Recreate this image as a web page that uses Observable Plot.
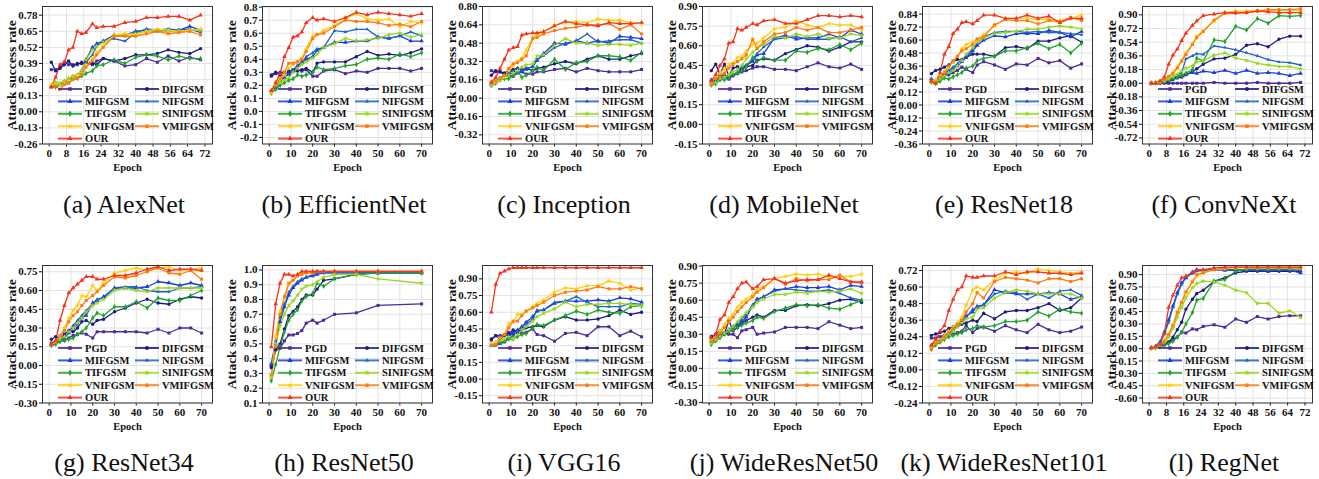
<!DOCTYPE html>
<html><head><meta charset="utf-8">
<script src="https://cdn.jsdelivr.net/npm/d3@7"></script>
<script src="https://cdn.jsdelivr.net/npm/@observablehq/plot@0.6"></script>
<style>
body{margin:0;background:#fff;}
#root{position:relative;width:1319px;height:479px;overflow:hidden;font-family:"Liberation Serif","Times New Roman",serif;}
.panel{position:absolute;width:220px;}
.cap{position:absolute;font-size:26px;white-space:nowrap;transform:translateX(-50%);color:#111;line-height:1;font-family:"Liberation Serif","Times New Roman",serif;}
</style></head><body><div id="root"></div>
<script>
// ---------- data ----------
const methods = ["PGD","DIFGSM","MIFGSM","NIFGSM","TIFGSM","SINIFGSM","VNIFGSM","VMIFGSM","OUR"];
const colors  = ["#4b2a99","#1c1c80","#1a3ce0","#1f63c6","#1fa52a","#9ad81e","#ffcf0a","#ff7a10","#f5341e"];
const symbols = ["square","circle","triangle","triangle2","diamond","star","star","square","triangle"];

const epochs   = [1,3,5,7,9,11,13,15,17,20,22,25,30,35,40,45,50,55,60,65,70];
const epochsR50 = [1,3,5,7,9,11,13,15,17,20,22,25,30,40,50,70];

const xTicks72 = [0,8,16,24,32,40,48,56,64,72];
const xTicks70 = [0,10,20,30,40,50,60,70];

const captions = ["(a) AlexNet","(b) EfficientNet","(c) Inception","(d) MobileNet","(e) ResNet18","(f) ConvNeXt",
  "(g) ResNet34","(h) ResNet50","(i) VGG16","(j) WideResNet50","(k) WideResNet101","(l) RegNet"];

const yTicksA = [-0.26,-0.13,0,0.13,0.26,0.39,0.52,0.65,0.78];
const yTicksB = [-0.2,-0.1,0,0.1,0.2,0.3,0.4,0.5,0.6,0.7,0.8];
const yTicksC = [-0.32,-0.16,0,0.16,0.32,0.48,0.64,0.80];
const yTicksD = [-0.15,0,0.15,0.30,0.45,0.60,0.75,0.90];
const yTicksE = [-0.36,-0.24,-0.12,0,0.12,0.24,0.36,0.48,0.60,0.72,0.84];
const yTicksF = [-0.72,-0.54,-0.36,-0.18,0,0.18,0.36,0.54,0.72,0.90];
const yTicksG = [-0.30,-0.15,0,0.15,0.30,0.45,0.60,0.75];
const yTicksH = [0.1,0.2,0.3,0.4,0.5,0.6,0.7,0.8,0.9,1.0];
const yTicksI = [-0.15,0,0.15,0.30,0.45,0.60,0.75,0.90];
const yTicksJ = [-0.30,-0.15,0,0.15,0.30,0.45,0.60,0.75,0.90];
const yTicksK = [-0.24,-0.12,0,0.12,0.24,0.36,0.48,0.60,0.72];
const yTicksL = [-0.60,-0.45,-0.30,-0.15,0,0.15,0.30,0.45,0.60,0.75,0.90];

// rows: PGD, DIFGSM, MIFGSM, NIFGSM, TIFGSM, SINIFGSM, VNIFGSM, VMIFGSM, OUR
const alexnet = [
 [0.34,0.34,0.36,0.40,0.38,0.38,0.38,0.40,0.39,0.38,0.41,0.43,0.41,0.37,0.38,0.43,0.40,0.45,0.41,0.44,0.42],
 [0.40,0.33,0.35,0.38,0.41,0.37,0.39,0.39,0.40,0.39,0.38,0.43,0.41,0.43,0.46,0.46,0.47,0.50,0.48,0.47,0.51],
 [0.20,0.21,0.22,0.24,0.25,0.27,0.29,0.33,0.42,0.52,0.55,0.57,0.62,0.62,0.65,0.66,0.65,0.66,0.66,0.69,0.66],
 [0.21,0.22,0.21,0.23,0.26,0.27,0.28,0.32,0.40,0.46,0.53,0.57,0.59,0.57,0.64,0.67,0.66,0.67,0.66,0.67,0.64],
 [0.21,0.20,0.22,0.24,0.26,0.28,0.27,0.29,0.31,0.33,0.37,0.38,0.42,0.39,0.44,0.46,0.45,0.42,0.45,0.43,0.43],
 [0.21,0.24,0.23,0.25,0.27,0.29,0.30,0.33,0.42,0.50,0.53,0.56,0.61,0.62,0.63,0.65,0.66,0.65,0.65,0.66,0.66],
 [0.22,0.22,0.21,0.23,0.25,0.27,0.29,0.31,0.38,0.43,0.48,0.53,0.62,0.63,0.62,0.65,0.67,0.66,0.65,0.66,0.67],
 [0.20,0.21,0.18,0.22,0.23,0.26,0.27,0.30,0.36,0.41,0.46,0.52,0.61,0.61,0.61,0.63,0.65,0.63,0.64,0.65,0.62],
 [0.20,0.28,0.38,0.40,0.50,0.52,0.65,0.63,0.64,0.71,0.68,0.69,0.69,0.72,0.73,0.76,0.76,0.77,0.77,0.74,0.78]];
const efficientnet = [
 [0.27,0.29,0.30,0.30,0.31,0.32,0.32,0.31,0.32,0.27,0.27,0.31,0.32,0.29,0.31,0.30,0.33,0.33,0.33,0.31,0.33],
 [0.28,0.30,0.28,0.29,0.30,0.31,0.31,0.32,0.33,0.30,0.37,0.38,0.38,0.38,0.42,0.46,0.43,0.44,0.43,0.45,0.48],
 [0.16,0.18,0.23,0.26,0.29,0.31,0.35,0.38,0.40,0.42,0.47,0.49,0.53,0.53,0.54,0.54,0.57,0.56,0.58,0.54,0.54],
 [0.15,0.20,0.24,0.27,0.28,0.32,0.35,0.37,0.42,0.45,0.48,0.49,0.62,0.61,0.63,0.63,0.57,0.56,0.58,0.61,0.58],
 [0.14,0.17,0.20,0.22,0.24,0.25,0.28,0.27,0.28,0.30,0.34,0.32,0.33,0.35,0.36,0.40,0.41,0.40,0.44,0.42,0.45],
 [0.14,0.20,0.22,0.24,0.26,0.30,0.33,0.36,0.38,0.41,0.44,0.49,0.52,0.56,0.54,0.55,0.56,0.59,0.60,0.57,0.59],
 [0.15,0.22,0.24,0.28,0.33,0.36,0.38,0.41,0.48,0.58,0.59,0.62,0.66,0.71,0.75,0.71,0.70,0.71,0.65,0.69,0.68],
 [0.16,0.20,0.25,0.30,0.37,0.37,0.38,0.40,0.46,0.56,0.59,0.60,0.65,0.70,0.69,0.69,0.68,0.66,0.67,0.65,0.69],
 [0.16,0.22,0.29,0.42,0.49,0.57,0.58,0.61,0.68,0.72,0.70,0.71,0.69,0.72,0.76,0.74,0.76,0.75,0.74,0.73,0.75]];
const inception = [
 [0.24,0.23,0.23,0.20,0.20,0.19,0.22,0.23,0.21,0.21,0.23,0.23,0.25,0.26,0.23,0.26,0.24,0.23,0.23,0.23,0.25],
 [0.20,0.24,0.23,0.22,0.24,0.25,0.26,0.25,0.26,0.24,0.26,0.27,0.30,0.32,0.30,0.34,0.37,0.34,0.34,0.37,0.39],
 [0.12,0.14,0.17,0.20,0.22,0.24,0.26,0.24,0.25,0.28,0.33,0.39,0.48,0.47,0.50,0.48,0.50,0.48,0.54,0.53,0.52],
 [0.12,0.15,0.18,0.19,0.21,0.22,0.22,0.24,0.26,0.27,0.34,0.37,0.44,0.48,0.50,0.56,0.49,0.50,0.51,0.51,0.48],
 [0.11,0.13,0.16,0.17,0.17,0.20,0.24,0.18,0.20,0.24,0.27,0.24,0.34,0.25,0.31,0.32,0.37,0.37,0.36,0.33,0.40],
 [0.11,0.14,0.16,0.18,0.20,0.22,0.24,0.27,0.29,0.30,0.37,0.38,0.46,0.52,0.48,0.48,0.46,0.47,0.47,0.46,0.48],
 [0.13,0.14,0.17,0.19,0.24,0.28,0.32,0.35,0.42,0.53,0.55,0.58,0.64,0.66,0.67,0.66,0.69,0.68,0.68,0.66,0.65],
 [0.13,0.15,0.17,0.20,0.26,0.30,0.31,0.34,0.37,0.52,0.53,0.56,0.59,0.61,0.62,0.64,0.64,0.65,0.60,0.64,0.56],
 [0.14,0.18,0.26,0.34,0.42,0.44,0.45,0.55,0.56,0.57,0.57,0.58,0.63,0.67,0.65,0.64,0.63,0.66,0.65,0.65,0.66]];
const mobilenet = [
 [0.31,0.34,0.36,0.38,0.36,0.37,0.39,0.40,0.41,0.43,0.44,0.44,0.42,0.42,0.41,0.44,0.47,0.44,0.43,0.46,0.42],
 [0.41,0.46,0.38,0.46,0.37,0.43,0.44,0.42,0.44,0.45,0.49,0.50,0.49,0.54,0.57,0.60,0.59,0.56,0.59,0.63,0.63],
 [0.34,0.33,0.35,0.36,0.35,0.38,0.39,0.42,0.45,0.48,0.53,0.54,0.66,0.68,0.65,0.66,0.66,0.69,0.66,0.72,0.69],
 [0.32,0.33,0.35,0.37,0.34,0.38,0.40,0.44,0.45,0.50,0.54,0.59,0.65,0.66,0.67,0.65,0.65,0.65,0.67,0.63,0.66],
 [0.30,0.31,0.34,0.34,0.36,0.38,0.39,0.41,0.44,0.51,0.48,0.51,0.49,0.49,0.56,0.55,0.58,0.57,0.61,0.57,0.62],
 [0.31,0.32,0.35,0.36,0.38,0.40,0.42,0.45,0.50,0.55,0.58,0.61,0.67,0.66,0.69,0.67,0.69,0.66,0.66,0.69,0.68],
 [0.32,0.36,0.39,0.42,0.46,0.47,0.51,0.52,0.56,0.61,0.62,0.66,0.73,0.74,0.79,0.76,0.74,0.77,0.76,0.76,0.72],
 [0.30,0.35,0.37,0.39,0.43,0.46,0.48,0.50,0.53,0.65,0.58,0.63,0.69,0.70,0.74,0.72,0.74,0.70,0.70,0.72,0.74],
 [0.33,0.38,0.45,0.50,0.62,0.63,0.73,0.72,0.74,0.77,0.76,0.79,0.80,0.77,0.77,0.80,0.83,0.83,0.82,0.83,0.82]];
const resnet18 = [
 [0.23,0.22,0.24,0.27,0.28,0.30,0.32,0.35,0.33,0.30,0.37,0.40,0.37,0.33,0.38,0.37,0.43,0.39,0.41,0.34,0.38],
 [0.29,0.32,0.33,0.35,0.37,0.40,0.42,0.42,0.44,0.47,0.47,0.47,0.45,0.53,0.54,0.52,0.59,0.59,0.62,0.64,0.58],
 [0.24,0.21,0.26,0.29,0.30,0.33,0.36,0.40,0.44,0.50,0.55,0.60,0.64,0.63,0.66,0.66,0.66,0.69,0.67,0.63,0.68],
 [0.24,0.22,0.27,0.30,0.32,0.35,0.38,0.42,0.45,0.52,0.57,0.63,0.67,0.68,0.68,0.67,0.68,0.67,0.67,0.66,0.65],
 [0.21,0.20,0.22,0.25,0.24,0.26,0.28,0.30,0.34,0.36,0.41,0.43,0.45,0.50,0.50,0.53,0.57,0.52,0.56,0.48,0.57],
 [0.21,0.22,0.24,0.27,0.30,0.32,0.36,0.41,0.47,0.53,0.58,0.62,0.66,0.67,0.68,0.70,0.70,0.72,0.73,0.72,0.70],
 [0.22,0.23,0.27,0.31,0.35,0.40,0.45,0.52,0.56,0.58,0.60,0.65,0.73,0.80,0.80,0.80,0.79,0.79,0.78,0.80,0.83],
 [0.22,0.21,0.26,0.30,0.36,0.41,0.45,0.50,0.52,0.56,0.61,0.63,0.74,0.79,0.78,0.78,0.75,0.78,0.77,0.81,0.78],
 [0.22,0.20,0.30,0.47,0.54,0.66,0.70,0.76,0.77,0.75,0.78,0.83,0.83,0.80,0.80,0.83,0.80,0.82,0.76,0.80,0.80]];
const convnext = [
 [0.00,0.00,0.00,0.00,0.00,0.00,0.00,0.00,0.00,0.00,0.00,0.00,0.01,0.00,0.00,0.00,0.01,0.00,0.00,0.00,0.01],
 [0.00,0.00,0.00,0.01,0.02,0.05,0.07,0.08,0.11,0.15,0.19,0.25,0.32,0.33,0.38,0.50,0.52,0.48,0.58,0.62,0.62],
 [0.00,0.00,0.01,0.03,0.05,0.07,0.09,0.10,0.12,0.14,0.13,0.16,0.14,0.17,0.13,0.17,0.13,0.14,0.13,0.10,0.13],
 [0.00,0.00,0.01,0.03,0.05,0.07,0.10,0.14,0.32,0.36,0.39,0.38,0.49,0.47,0.44,0.40,0.36,0.31,0.28,0.27,0.24],
 [0.00,0.00,0.01,0.02,0.04,0.06,0.08,0.10,0.13,0.18,0.33,0.29,0.57,0.55,0.75,0.70,0.85,0.79,0.89,0.88,0.89],
 [0.00,0.00,0.01,0.03,0.06,0.09,0.12,0.16,0.20,0.23,0.28,0.29,0.37,0.40,0.33,0.30,0.26,0.24,0.22,0.22,0.19],
 [0.00,0.00,0.02,0.05,0.08,0.14,0.22,0.30,0.40,0.52,0.62,0.69,0.82,0.93,0.95,0.95,0.96,0.96,0.96,0.96,0.96],
 [0.00,0.00,0.02,0.05,0.09,0.13,0.20,0.29,0.38,0.51,0.60,0.68,0.83,0.92,0.92,0.93,0.95,0.97,0.97,0.97,0.98],
 [0.00,0.00,0.03,0.08,0.25,0.37,0.45,0.56,0.66,0.76,0.82,0.89,0.91,0.93,0.93,0.93,0.95,0.94,0.93,0.93,0.93]];
const resnet34 = [
 [0.18,0.19,0.21,0.20,0.22,0.24,0.25,0.26,0.25,0.22,0.27,0.27,0.27,0.27,0.27,0.26,0.29,0.26,0.30,0.30,0.26],
 [0.21,0.23,0.22,0.25,0.28,0.27,0.30,0.35,0.36,0.33,0.36,0.37,0.43,0.46,0.50,0.53,0.50,0.49,0.53,0.55,0.54],
 [0.17,0.19,0.20,0.22,0.26,0.30,0.33,0.38,0.40,0.50,0.52,0.55,0.62,0.62,0.62,0.63,0.67,0.66,0.64,0.66,0.64],
 [0.16,0.18,0.20,0.23,0.27,0.32,0.36,0.40,0.44,0.49,0.53,0.54,0.62,0.63,0.63,0.60,0.59,0.59,0.62,0.62,0.63],
 [0.16,0.17,0.19,0.20,0.21,0.22,0.25,0.27,0.30,0.38,0.42,0.40,0.47,0.47,0.51,0.46,0.54,0.52,0.52,0.56,0.60],
 [0.17,0.19,0.21,0.23,0.27,0.30,0.34,0.38,0.43,0.48,0.50,0.53,0.60,0.62,0.60,0.59,0.62,0.62,0.62,0.62,0.62],
 [0.17,0.19,0.23,0.30,0.38,0.44,0.48,0.56,0.55,0.64,0.60,0.66,0.74,0.76,0.78,0.76,0.78,0.79,0.76,0.77,0.78],
 [0.17,0.19,0.24,0.28,0.35,0.40,0.43,0.48,0.52,0.56,0.59,0.64,0.71,0.70,0.72,0.75,0.78,0.74,0.73,0.76,0.69],
 [0.17,0.20,0.36,0.48,0.58,0.62,0.65,0.68,0.71,0.71,0.69,0.69,0.72,0.72,0.74,0.77,0.79,0.76,0.77,0.77,0.76]];
const resnet50 = [
 [0.35,0.46,0.47,0.52,0.56,0.56,0.57,0.59,0.64,0.66,0.64,0.66,0.70,0.71,0.76,0.77],
 [0.34,0.46,0.50,0.60,0.69,0.72,0.75,0.80,0.83,0.83,0.87,0.93,0.94,0.97,0.98,0.98],
 [0.36,0.50,0.65,0.75,0.83,0.88,0.91,0.93,0.95,0.96,0.97,0.98,0.98,0.98,0.98,0.98],
 [0.37,0.52,0.68,0.77,0.85,0.89,0.92,0.94,0.95,0.97,0.98,0.98,0.98,0.98,0.98,0.98],
 [0.25,0.36,0.48,0.58,0.66,0.70,0.73,0.79,0.82,0.84,0.91,0.89,0.94,0.97,0.98,0.98],
 [0.27,0.50,0.62,0.70,0.76,0.79,0.83,0.87,0.89,0.90,0.92,0.95,0.97,0.97,0.94,0.91],
 [0.29,0.55,0.72,0.80,0.90,0.93,0.96,0.97,0.98,0.98,0.99,0.99,0.99,0.99,0.99,0.99],
 [0.29,0.48,0.70,0.82,0.91,0.93,0.96,0.97,0.98,0.98,0.99,0.99,0.99,0.99,0.99,0.99],
 [0.48,0.77,0.91,0.97,0.97,0.96,0.97,0.99,0.99,0.99,0.99,0.99,0.99,0.99,0.99,0.99]];
const vgg16 = [
 [0.35,0.39,0.39,0.40,0.42,0.40,0.42,0.41,0.42,0.45,0.40,0.39,0.34,0.41,0.42,0.39,0.47,0.47,0.39,0.43,0.38],
 [0.36,0.39,0.36,0.39,0.40,0.44,0.43,0.44,0.46,0.47,0.48,0.47,0.53,0.56,0.53,0.53,0.54,0.57,0.62,0.58,0.60],
 [0.30,0.31,0.32,0.34,0.38,0.42,0.44,0.47,0.51,0.56,0.61,0.62,0.68,0.70,0.70,0.70,0.71,0.70,0.73,0.72,0.69],
 [0.30,0.30,0.32,0.33,0.36,0.39,0.43,0.47,0.49,0.54,0.62,0.62,0.69,0.70,0.74,0.69,0.65,0.65,0.65,0.68,0.67],
 [0.31,0.32,0.33,0.34,0.36,0.36,0.38,0.40,0.41,0.46,0.49,0.48,0.53,0.57,0.61,0.58,0.62,0.60,0.59,0.65,0.66],
 [0.31,0.33,0.35,0.36,0.38,0.36,0.40,0.44,0.47,0.52,0.56,0.59,0.63,0.69,0.65,0.67,0.67,0.68,0.68,0.67,0.66],
 [0.31,0.33,0.37,0.40,0.50,0.51,0.58,0.58,0.61,0.65,0.68,0.71,0.78,0.82,0.81,0.84,0.84,0.88,0.86,0.80,0.82],
 [0.30,0.31,0.36,0.40,0.46,0.52,0.52,0.57,0.61,0.64,0.66,0.69,0.75,0.78,0.79,0.80,0.83,0.81,0.81,0.83,0.81],
 [0.60,0.85,0.95,0.97,0.99,1.00,1.00,1.00,1.00,1.00,1.00,1.00,1.00,1.00,1.00,1.00,1.00,1.00,1.00,1.00,1.00]];
const wideresnet50 = [
 [0.27,0.28,0.29,0.31,0.30,0.30,0.27,0.33,0.34,0.36,0.30,0.31,0.32,0.36,0.36,0.36,0.35,0.41,0.38,0.35,0.36],
 [0.28,0.30,0.33,0.30,0.42,0.33,0.36,0.40,0.42,0.45,0.47,0.45,0.51,0.51,0.55,0.56,0.55,0.57,0.60,0.61,0.58],
 [0.24,0.25,0.28,0.31,0.34,0.36,0.38,0.41,0.45,0.55,0.61,0.63,0.69,0.70,0.72,0.71,0.71,0.72,0.69,0.73,0.72],
 [0.24,0.26,0.28,0.31,0.34,0.37,0.40,0.43,0.48,0.56,0.60,0.63,0.68,0.70,0.69,0.68,0.68,0.69,0.66,0.62,0.60],
 [0.21,0.24,0.27,0.30,0.32,0.34,0.36,0.38,0.40,0.42,0.45,0.44,0.50,0.53,0.56,0.55,0.56,0.53,0.52,0.56,0.60],
 [0.22,0.25,0.28,0.31,0.34,0.37,0.41,0.45,0.49,0.54,0.58,0.61,0.65,0.65,0.67,0.66,0.68,0.67,0.68,0.70,0.66],
 [0.25,0.28,0.33,0.39,0.44,0.48,0.54,0.58,0.61,0.65,0.69,0.72,0.79,0.81,0.83,0.82,0.83,0.80,0.81,0.81,0.83],
 [0.24,0.27,0.31,0.36,0.41,0.45,0.50,0.54,0.58,0.63,0.67,0.71,0.79,0.74,0.79,0.77,0.78,0.78,0.82,0.76,0.75],
 [0.27,0.30,0.43,0.47,0.58,0.63,0.70,0.75,0.76,0.70,0.72,0.78,0.79,0.75,0.77,0.78,0.78,0.82,0.79,0.76,0.76]];
const wideresnet101 = [
 [0.23,0.23,0.24,0.25,0.26,0.26,0.27,0.28,0.32,0.27,0.30,0.31,0.28,0.32,0.29,0.27,0.33,0.29,0.27,0.28,0.31],
 [0.25,0.26,0.27,0.28,0.30,0.31,0.32,0.33,0.34,0.36,0.35,0.41,0.37,0.42,0.43,0.43,0.45,0.48,0.43,0.45,0.52],
 [0.17,0.20,0.22,0.24,0.27,0.29,0.32,0.35,0.39,0.42,0.46,0.47,0.58,0.56,0.55,0.55,0.55,0.56,0.55,0.51,0.53],
 [0.17,0.20,0.22,0.25,0.27,0.29,0.32,0.35,0.38,0.44,0.45,0.47,0.55,0.57,0.56,0.51,0.55,0.52,0.57,0.58,0.54],
 [0.15,0.18,0.20,0.22,0.24,0.25,0.26,0.27,0.29,0.30,0.32,0.31,0.32,0.35,0.35,0.36,0.42,0.39,0.44,0.42,0.41],
 [0.16,0.19,0.21,0.23,0.26,0.28,0.31,0.34,0.37,0.38,0.44,0.45,0.52,0.56,0.58,0.57,0.55,0.55,0.55,0.55,0.52],
 [0.16,0.20,0.22,0.25,0.28,0.31,0.34,0.38,0.47,0.58,0.60,0.58,0.65,0.70,0.71,0.70,0.73,0.72,0.71,0.70,0.71],
 [0.15,0.19,0.21,0.24,0.27,0.30,0.33,0.36,0.42,0.48,0.56,0.52,0.64,0.67,0.66,0.65,0.63,0.66,0.66,0.64,0.66],
 [0.18,0.22,0.28,0.32,0.43,0.51,0.58,0.60,0.68,0.67,0.67,0.68,0.68,0.71,0.69,0.71,0.71,0.70,0.70,0.69,0.70]];
const regnet = [
 [0.01,0.02,0.04,0.05,0.08,0.11,0.14,0.20,0.19,0.24,0.23,0.27,0.29,0.26,0.36,0.32,0.39,0.36,0.39,0.40,0.40],
 [0.01,0.02,0.03,0.05,0.08,0.14,0.23,0.32,0.48,0.60,0.67,0.71,0.82,0.86,0.92,0.94,0.94,0.94,0.94,0.94,0.94],
 [0.01,0.03,0.08,0.20,0.35,0.52,0.68,0.80,0.86,0.93,0.96,0.95,0.96,0.95,0.95,0.95,0.95,0.94,0.95,0.95,0.92],
 [0.01,0.03,0.08,0.18,0.32,0.50,0.66,0.78,0.87,0.91,0.94,0.95,0.96,0.96,0.96,0.96,0.96,0.96,0.96,0.96,0.95],
 [0.01,0.01,0.02,0.04,0.06,0.09,0.14,0.20,0.30,0.44,0.59,0.61,0.82,0.84,0.94,0.97,0.97,0.97,0.97,0.97,0.97],
 [0.01,0.02,0.04,0.08,0.14,0.25,0.38,0.50,0.62,0.74,0.79,0.82,0.81,0.77,0.71,0.68,0.55,0.55,0.43,0.46,0.38],
 [0.01,0.02,0.05,0.10,0.18,0.30,0.45,0.57,0.68,0.82,0.88,0.93,0.96,0.97,0.98,0.98,0.98,0.98,0.98,0.98,0.98],
 [0.01,0.02,0.04,0.09,0.17,0.28,0.44,0.56,0.69,0.81,0.90,0.92,0.96,0.98,0.99,0.99,0.99,0.99,0.99,0.99,0.99],
 [0.01,0.02,0.05,0.18,0.50,0.65,0.77,0.86,0.88,0.93,0.96,0.96,0.98,0.99,0.99,0.99,0.99,0.99,0.99,0.99,0.99]];

// ---------- panel setup ----------
const panels = [
 {vals: alexnet,       ep: epochs,    xt: xTicks72, yt: yTicksA, yd: [-0.26, 0.85],  dec: 2},
 {vals: efficientnet,  ep: epochs,    xt: xTicks70, yt: yTicksB, yd: [-0.25, 0.805], dec: 1},
 {vals: inception,     ep: epochs,    xt: xTicks70, yt: yTicksC, yd: [-0.40, 0.80],  dec: 2},
 {vals: mobilenet,     ep: epochs,    xt: xTicks70, yt: yTicksD, yd: [-0.15, 0.90],  dec: 2},
 {vals: resnet18,      ep: epochs,    xt: xTicks70, yt: yTicksE, yd: [-0.36, 0.91],  dec: 2},
 {vals: convnext,      ep: epochs,    xt: xTicks72, yt: yTicksF, yd: [-0.80, 1.01],  dec: 2},
 {vals: resnet34,      ep: epochs,    xt: xTicks70, yt: yTicksG, yd: [-0.30, 0.80],  dec: 2},
 {vals: resnet50,      ep: epochsR50, xt: xTicks70, yt: yTicksH, yd: [0.10, 1.03],   dec: 1},
 {vals: vgg16,         ep: epochs,    xt: xTicks70, yt: yTicksI, yd: [-0.215, 1.02], dec: 2},
 {vals: wideresnet50,  ep: epochs,    xt: xTicks70, yt: yTicksJ, yd: [-0.305, 0.905],dec: 2},
 {vals: wideresnet101, ep: epochs,    xt: xTicks70, yt: yTicksK, yd: [-0.24, 0.756], dec: 2},
 {vals: regnet,        ep: epochs,    xt: xTicks72, yt: yTicksL, yd: [-0.66, 1.01],  dec: 2}
];

const root = document.getElementById("root");
const FONT = '"Liberation Serif","Times New Roman",serif';
const d3sym = {square: d3.symbolSquare, circle: d3.symbolCircle, triangle: d3.symbolTriangle, triangle2: d3.symbolTriangle2, diamond: d3.symbolDiamond, star: d3.symbolStar};

panels.forEach((p, k) => {
  const rows = [];
  p.vals.forEach((series, mi) => series.forEach((v, j) => rows.push({method: methods[mi], epoch: p.ep[j], rate: v})));
  const xd = p.xt[p.xt.length - 1] === 72 ? [-3.08, 75.5] : [-3.06, 75.0];
  const chart = Plot.plot({
    width: 220, height: 176,
    marginLeft: 42, marginRight: 8, marginTop: 6, marginBottom: 32.5,
    style: {fontFamily: FONT, fontWeight: "bold", fontSize: "11px", color: "#111", background: "transparent"},
    x: {domain: xd, ticks: p.xt, tickFormat: d => String(d), tickSize: 3, tickPadding: 2,
        label: "Epoch", labelAnchor: "center", labelArrow: "none", labelOffset: 27},
    y: {domain: p.yd, ticks: p.yt, tickFormat: d => d.toFixed(p.dec), tickSize: 3, tickPadding: 2,
        label: "Attack success rate", labelAnchor: "center", labelArrow: "none", labelOffset: 36},
    color: {domain: methods, range: colors},
    symbol: {domain: methods, range: symbols},
    marks: [
      Plot.gridX(p.xt, {stroke: "#e2e2e2", strokeOpacity: 1}),
      Plot.gridY(p.yt, {stroke: "#e2e2e2", strokeOpacity: 1}),
      Plot.line(rows, {x: "epoch", y: "rate", z: "method", stroke: "method", strokeWidth: 1.3}),
      Plot.dot(rows, {x: "epoch", y: "rate", symbol: "method", fill: "method", stroke: "none", r: 1.7}),
      Plot.frame({stroke: "#333", strokeWidth: 1})
    ]
  });
  d3.select(chart).selectAll("[aria-label='y-axis label'] text").attr("font-size", 13.5);
  d3.select(chart).selectAll("[aria-label='x-axis label'] text").attr("font-size", 10.5);
  // in-plot legend
  const g = d3.select(chart).append("g").attr("font-family", FONT).attr("font-weight", "bold")
    .attr("font-size", 10.5).attr("fill", "#111").attr("text-anchor", "start");
  methods.forEach((m, i) => {
    const col = i % 2, row = Math.floor(i / 2);
    const x0 = col ? 135 : 58, y = 89 + row * 12.4;
    g.append("line").attr("x1", x0).attr("x2", x0 + 24).attr("y1", y).attr("y2", y)
      .attr("stroke", colors[i]).attr("stroke-width", 2).attr("stroke-opacity", 0.85);
    g.append("path").attr("d", d3.symbol(d3sym[symbols[i]], 12)()).attr("transform", `translate(${x0 + 12},${y})`).attr("fill", colors[i]);
    g.append("text").attr("x", x0 + 27).attr("y", y).attr("dy", "0.35em").attr("text-anchor", "start").text(m);
  });
  const div = document.createElement("div");
  div.className = "panel";
  const col = k % 6, row = Math.floor(k / 6);
  div.style.left = (220 * col) + "px";
  div.style.top = (row ? 259 : 0) + "px";
  div.appendChild(chart);
  root.appendChild(div);
  const cap = document.createElement("div");
  cap.className = "cap";
  cap.textContent = captions[k];
  cap.style.left = (220 * col + 124) + "px";
  cap.style.top = (row ? 450 : 192) + "px";
  root.appendChild(cap);
});
</script></body></html>
